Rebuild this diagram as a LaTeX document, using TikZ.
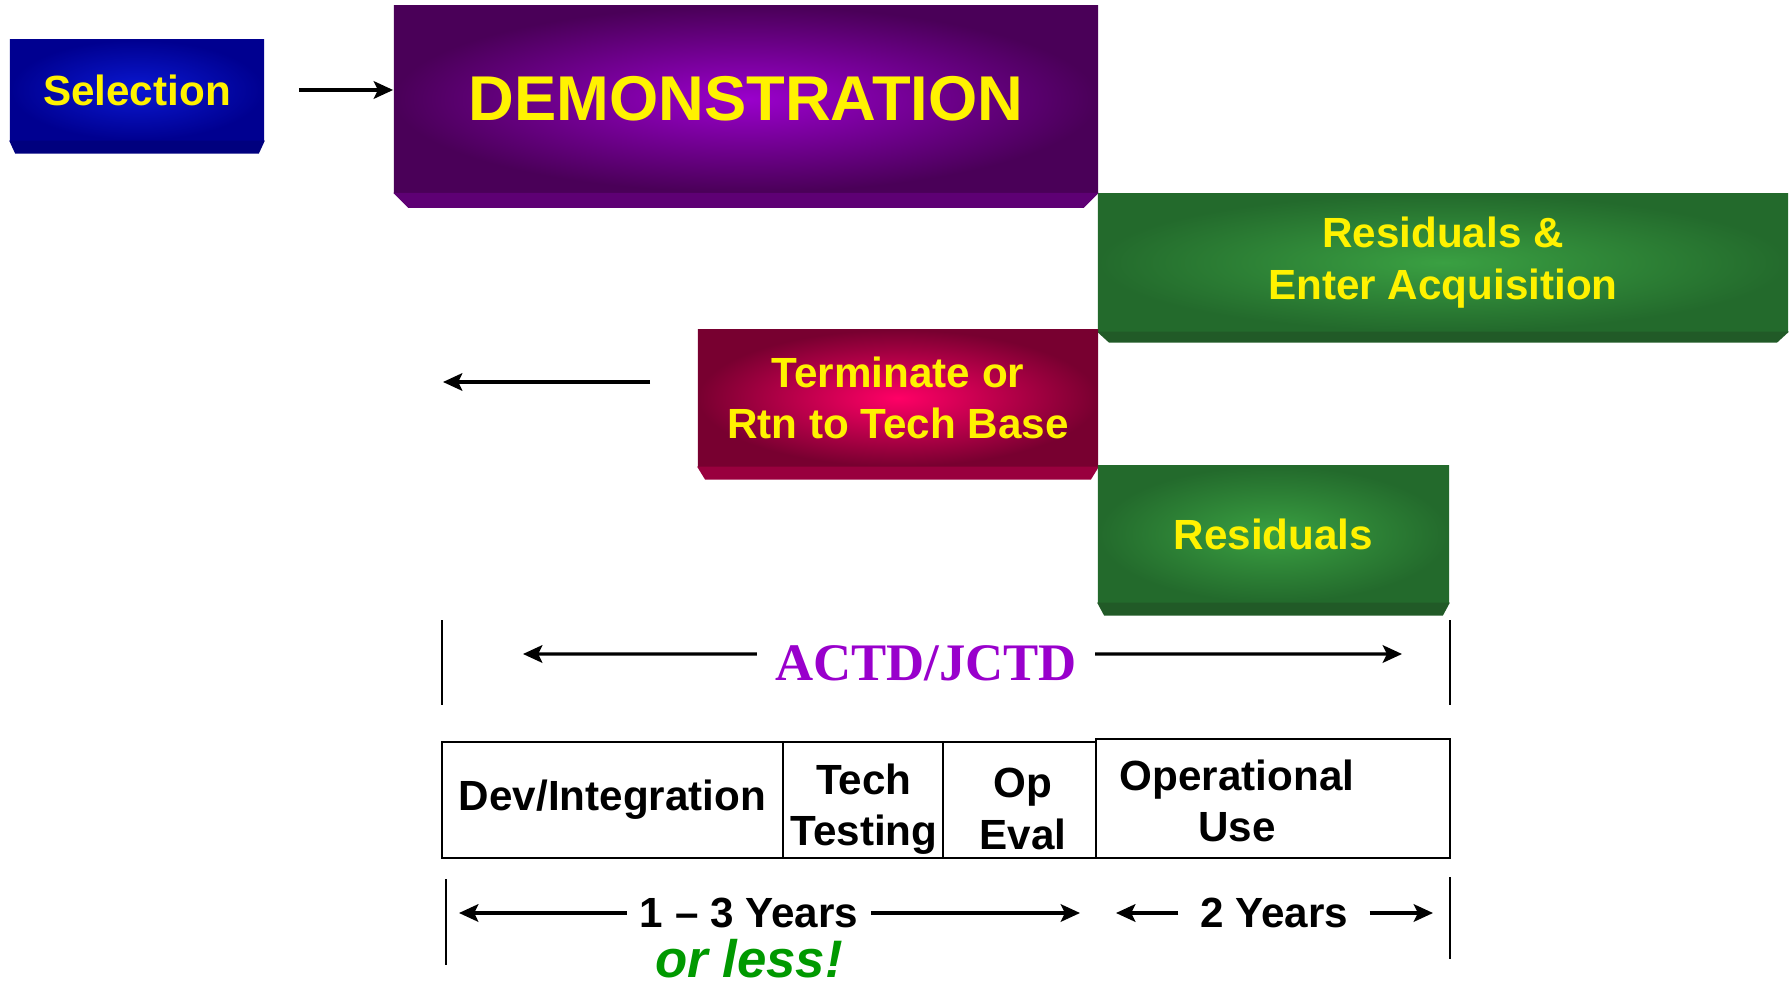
\documentclass[tikz,border=0pt]{standalone}
\usepackage{fontspec}
\setmainfont{Liberation Sans}
\newfontfamily\serifbold{Liberation Serif}
\usetikzlibrary{arrows.meta}

\definecolor{selin}{HTML}{0A18D2}
\definecolor{selout}{HTML}{000090}
\definecolor{selbev}{HTML}{00007E}
\definecolor{demoin}{HTML}{9A00CC}
\definecolor{demoout}{HTML}{4A0058}
\definecolor{demobev}{HTML}{5E0074}
\definecolor{greenin}{HTML}{3AA042}
\definecolor{greenout}{HTML}{236A2C}
\definecolor{greenbev}{HTML}{215A27}
\definecolor{termin}{HTML}{FF0066}
\definecolor{termout}{HTML}{780030}
\definecolor{termbev}{HTML}{99003E}
\definecolor{actdpurple}{HTML}{9900CC}
\definecolor{lessgreen}{HTML}{009900}

\tikzset{
  phase/.style={rectangle, inner sep=0pt, align=center, text=yellow,
    font=\fontsize{12}{14.6}\selectfont\bfseries},
  cell/.style={draw, line width=0.7pt, rectangle, inner sep=0pt,
    minimum height=1.16cm, align=center,
    font=\fontsize{12}{14.6}\selectfont\bfseries},
  lbl/.style={font=\fontsize{12}{14.6}\selectfont\bfseries},
  arr/.style={line width=0.9pt, -{Stealth[length=5.5pt,width=5pt,inset=1.2pt]}},
  bar/.style={line width=0.6pt},
}

% bottom edge of a box: node, inset, depth, colour
\newcommand{\boxbevel}[4]{%
  \fill[#4] (#1.south west) -- (#1.south east) -- ++(-#2,#3)
    -- ([shift={(#2,#3)}]#1.south west) -- cycle;}

\begin{document}
\begin{tikzpicture}[x=0.01cm, y=-0.01cm]
\useasboundingbox (0,0) rectangle (1790,985);

% phases
\node[phase, inner color=selin, outer color=selout,
  minimum width=2.54cm, minimum height=1cm] (sel) at (137,90) {Selection};
\boxbevel{sel}{6}{13}{selbev}

\node[phase, inner color=demoin, outer color=demoout,
  font=\fontsize{18}{20}\selectfont\bfseries,
  minimum width=7.04cm, minimum height=1.86cm] (demo) at (746,99) {DEMONSTRATION};
\boxbevel{demo}{15}{15}{demobev}

\node[phase, inner color=greenin, outer color=greenout,
  minimum width=6.9cm, minimum height=1.37cm] (resacq) at (1443,262.5) {Residuals \&\\Enter Acquisition};
\boxbevel{resacq}{12}{11}{greenbev}

\node[phase, inner color=termin, outer color=termout,
  minimum width=4cm, minimum height=1.36cm] (term) at (898,398) {Terminate or\\Rtn to Tech Base};
\boxbevel{term}{8}{13}{termbev}

\node[phase, inner color=greenin, outer color=greenout,
  minimum width=3.51cm, minimum height=1.36cm] (resid) at (1273.5,534) {Residuals};
\boxbevel{resid}{7}{13}{greenbev}

\draw[arr] ([xshift=0.34cm]sel.east) -- (sel.east -| demo.west);
\coordinate (termL) at (443,382);
\draw[arr] ([shift={(-47,-16)}]term.west) -- (termL);

% ACTD/JCTD span
\draw[bar] (442,620) -- (442,705);
\draw[bar] (1450,620) -- (1450,705);
\node[font=\serifbold\fontsize{15}{18}\selectfont\bfseries, text=actdpurple,
  inner xsep=5pt] (actd) at (926,663) {ACTD/JCTD};
\coordinate (actdL) at (523,654);
\coordinate (actdR) at (1402,654);
\draw[arr] ([yshift=0.09cm]actd.west) -- (actdL);
\draw[arr] ([yshift=0.09cm]actd.east) -- (actdR);

% schedule
\node[cell, minimum width=3.41cm] (dev) at (612.5,800) {Dev/Integration};
\node[cell, minimum width=1.6cm] (tech) at (863,800) {};
\node[cell, minimum width=1.53cm] (opev) at (1019.5,800) {};
\node[cell, minimum width=3.54cm, minimum height=1.19cm] (opuse) at (1273,798.5) {};
\node[lbl, align=center] (techtxt) at (864,809) {Tech\\Testing};
\node[lbl, align=center] (opevtxt) at (1023,809) {Op\\Eval};
\node[lbl, align=center] (opusetxt) at (1237,801) {Operational\\Use};

% durations
\draw[bar] (446,879) -- (446,965);
\draw[bar] (1450,877) -- (1450,959);
\node[lbl, inner xsep=3.5pt] (yrs13) at (749,913) {1 – 3 Years};
\coordinate (yrs13L) at (459,913);
\coordinate (yrs13R) at (1080,913);
\draw[arr] (yrs13) -- (yrs13L);
\draw[arr] (yrs13) -- (yrs13R);
\node[lbl, inner xsep=6pt] (yrs2) at (1274,913) {2 Years};
\coordinate (yrs2L) at (1116,913);
\coordinate (yrs2R) at (1433,913);
\draw[arr] (yrs2) -- (yrs2L);
\draw[arr] (yrs2) -- (yrs2R);
\node[font=\fontsize{15}{18}\selectfont\bfseries\itshape, text=lessgreen,
  inner sep=1pt] (less) at (749,959) {or less!};

\end{tikzpicture}
\end{document}
